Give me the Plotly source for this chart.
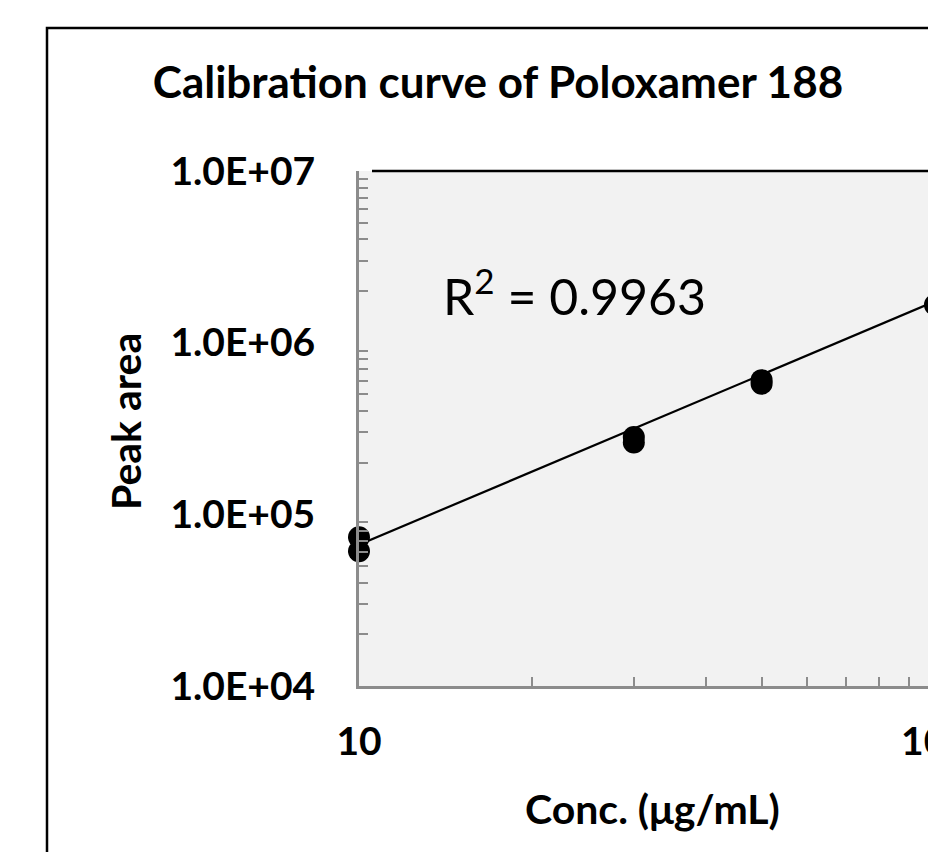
import numpy as np
import plotly.graph_objects as go

# ---- data ----
conc = [10, 10, 30, 30, 50, 50, 100]
peak_area = [61000, 73500, 262000, 282000, 577000, 605000, 1660000]
trend_coef = 2.54e3        # power trendline: y = a * x^b
trend_exp = 1.418
r_squared_label = "R<sup>2</sup> = 0.9963"
x_tickvals = [10, 100]
x_ticktext = ["10", "100"]
y_tickvals = [1e4, 1e5, 1e6, 1e7]
y_ticktext = ["1.0E+04", "1.0E+05", "1.0E+06", "1.0E+07"]
title_text = "Calibration curve of Poloxamer 188"
x_title = "Conc. (μg/mL)"
y_title = "Peak area"

OFF = 8                      # page body margin
W, H = 928, 844
L, T = 359 - OFF, 171 - OFF
R = W - (935 - OFF)
B = H - (686 - OFF)
pw, ph = W - L - R, H - T - B


def sx(p):
    """screen x pixel -> paper fraction"""
    return (p - OFF - L) / pw


def sy(p):
    """screen y pixel -> paper fraction"""
    return (H - B - (p - OFF)) / ph


trend_x = np.logspace(np.log10(10), np.log10(100), 50)
trend_y = trend_coef * trend_x ** trend_exp

fig = go.Figure()
fig.add_trace(go.Scatter(x=trend_x, y=trend_y, mode="lines",
                         line=dict(color="black", width=2.2),
                         hoverinfo="skip", showlegend=False))
fig.add_trace(go.Scatter(x=conc, y=peak_area, mode="markers",
                         marker=dict(color="black", size=22),
                         cliponaxis=False, showlegend=False))

minor_x = [k * 10 ** d for d in range(1, 2) for k in range(2, 10)]
minor_y = [k * 10 ** d for d in range(4, 7) for k in range(2, 10)]

tick_font = dict(family="Lato", size=39, color="black", weight="bold")
title_font = dict(family="Lato", size=41, color="black", weight="bold")

fig.update_layout(
    width=W, height=H,
    margin=dict(l=L, r=R, t=T, b=B, autoexpand=False),
    paper_bgcolor="white",
    plot_bgcolor="#f2f2f2",
    title=dict(text=title_text, x=(498 - OFF) / W, xanchor="center",
               y=1 - (83 - OFF) / H, yanchor="middle",
               font=dict(family="Lato", size=44, color="black", weight="bold")),
    xaxis=dict(type="log", range=[1, 2], tickvals=x_tickvals, ticktext=x_ticktext,
               showgrid=False, zeroline=False, showline=True,
               linecolor="#8c8c8c", linewidth=3, ticks="", tickfont=tick_font,
               ticklabelstandoff=19, ticklabeloverflow="allow",
               minor=dict(tickvals=minor_x, ticks="inside", ticklen=9,
                          tickcolor="#8c8c8c", tickwidth=2, showgrid=False)),
    yaxis=dict(type="log", range=[4, 7], tickvals=y_tickvals, ticktext=y_ticktext,
               showgrid=False, zeroline=False, showline=True,
               linecolor="#8c8c8c", linewidth=3, ticks="", tickfont=tick_font,
               ticklabelstandoff=33, ticklabeloverflow="allow",
               minor=dict(tickvals=minor_y, ticks="inside", ticklen=9,
                          tickcolor="#8c8c8c", tickwidth=2, showgrid=False)),
    shapes=[
        dict(type="line", xref="paper", yref="paper", x0=sx(372), x1=1.05, y0=1, y1=1,
             line=dict(color="black", width=2.5)),
        dict(type="rect", xref="paper", yref="paper",
             x0=sx(47), x1=1.5, y0=sy(900), y1=sy(28),
             line=dict(color="black", width=2.5), fillcolor="rgba(0,0,0,0)", layer="above"),
    ],
    annotations=[
        dict(text=r_squared_label, xref="paper", yref="paper",
             x=sx(574), y=sy(292), xanchor="center", yanchor="middle",
             showarrow=False, font=dict(family="Lato", size=50, color="black")),
        dict(text=y_title, xref="paper", yref="paper", textangle=-90,
             x=sx(125), y=sy(422), xanchor="center", yanchor="middle",
             showarrow=False, font=title_font),
        dict(text=x_title, xref="paper", yref="paper",
             x=sx(652), y=sy(808), xanchor="center", yanchor="middle",
             showarrow=False, font=title_font),
    ],
)

fig.write_html("out.html")
